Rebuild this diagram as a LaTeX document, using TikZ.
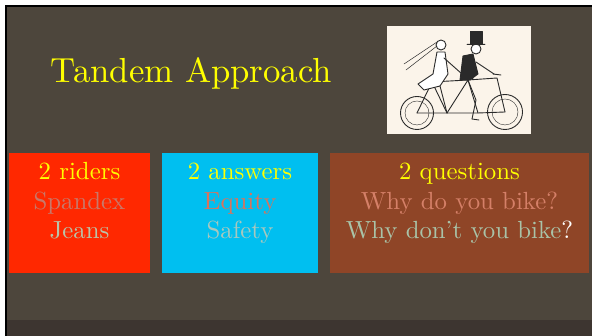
\documentclass[tikz,border=0pt]{standalone}
\usepackage{fontspec}
\setmainfont{lmroman10-regular.otf}
\usepackage{tikz}
\usetikzlibrary{positioning}
\definecolor{udwutc}{rgb}{0.302,0.275,0.235}
\definecolor{tdtvtq}{rgb}{0.239,0.208,0.188}
\definecolor{ffsaqq}{rgb}{1.,0.157,0.}
\definecolor{qqbfeq}{rgb}{0.,0.749,0.941}
\definecolor{yfuvsx}{rgb}{0.561,0.271,0.153}
\definecolor{ffffqq}{rgb}{1.,1.,0.}
\definecolor{cyxwwa}{rgb}{0.784,0.471,0.416}
\definecolor{dzxtvc}{rgb}{0.851,0.451,0.361}
\definecolor{bzcuaz}{rgb}{0.725,0.769,0.663}
\definecolor{azcybe}{rgb}{0.663,0.784,0.745}
\definecolor{dvyqwy}{rgb}{0.835,0.502,0.408}
\definecolor{azctay}{rgb}{0.663,0.765,0.659}
\definecolor{fbfuea}{rgb}{0.984,0.957,0.918}
\definecolor{sasasa}{rgb}{0.165,0.165,0.165}
\begin{document}
\begin{tikzpicture}[line cap=round,line join=round,x=1pt,y=1pt,
    box/.style={rectangle,draw=none,inner sep=0pt},
    line/.style={anchor=base,inner sep=0pt,font=\fontsize{24.8}{30}\selectfont},
    ink/.style={draw=sasasa,line width=0.9pt}]
    \useasboundingbox (0,0) rectangle (592,336);
    \fill [white] (0,0) rectangle (592,336);
    \fill [udwutc] (7,0) rectangle (592,329);
    \fill [tdtvtq] (7,0) rectangle (592,16);
    \fill [black] (5,0) rectangle (7,331);
    \fill [black] (5,329) rectangle (592,331);
    % title
    \node[anchor=base,inner sep=0pt,font=\fontsize{34.8}{40}\selectfont,color=ffffqq] (title) at (191.5,253) {Tandem Approach};
    % picture
    \node[box,fill=fbfuea,minimum width=144,minimum height=108] (photo) at (459,256) {};
    \draw [ink] (417,223) circle (16.5);
    \draw [ink] (505,224) circle (17.5);
    \draw [ink,line width=0.4pt] (417,223) circle (12);
    \draw [ink,line width=0.4pt] (505,224) circle (13);
    \draw [ink] (417,223)-- (447,223)-- (478,223)-- (505,224);
    \draw [ink] (417,223)-- (432,254)-- (447,223);
    \draw [ink] (447,223)-- (468,256)-- (478,223);
    \draw [ink] (432,254)-- (468,256)-- (497,258)-- (505,224);
    \draw [ink] (493,262)-- (501,261);
    \draw [ink] (428,256)-- (437,256);
    \draw [ink] (464,258)-- (473,258);
    % bride
    \draw [ink,fill=white] (441,291) circle (5);
    \draw [ink,fill=white] (437,284)-- (445,284)-- (448,262)-- (440,250)-- (424,246)-- (418,252)-- (433,262)-- cycle;
    \draw [ink,line width=0.5pt] (437,294)-- (404,272);
    \draw [ink,line width=0.5pt] (437,290)-- (406,266);
    \draw [ink] (444,278)-- (462,262);
    \draw [ink] (440,250)-- (447,223);
    % groom
    \draw [ink,fill=sasasa] (460,256)-- (463,280)-- (473,282)-- (478,262)-- (470,256)-- cycle;
    \draw [ink,fill=white] (476,287) circle (5);
    \draw [ink,fill=sasasa] (470,292) rectangle (482,305);
    \draw [ink,fill=sasasa] (467,292)-- (485,292);
    \draw [ink] (476,274)-- (494,262);
    \draw [ink] (468,256)-- (476,236)-- (472,217);
    \draw [ink] (472,217)-- (479,216);
    % boxes
    \node[box,fill=ffsaqq,minimum width=141,minimum height=120] (riders) at (79.5,123) {};
    \node[box,fill=qqbfeq,minimum width=156,minimum height=120] (answers) at (240,123) {};
    \node[box,fill=yfuvsx,minimum width=259,minimum height=120] (questions) at (459.5,123) {};
    \node[line,color=ffffqq] (riders1) at ([yshift=-27]riders.north) {2 riders};
    \node[line,color=cyxwwa] (riders2) at ([yshift=-56.5]riders.north) {Spandex};
    \node[line,color=bzcuaz] (riders3) at ([yshift=-86]riders.north) {Jeans};
    \node[line,color=ffffqq] (answers1) at ([yshift=-27]answers.north) {2 answers};
    \node[line,color=dzxtvc] (answers2) at ([yshift=-56.5]answers.north) {Equity};
    \node[line,color=azcybe] (answers3) at ([yshift=-86]answers.north) {Safety};
    \node[line,color=ffffqq] (questions1) at ([yshift=-27]questions.north) {2 questions};
    \node[line,color=dvyqwy] (questions2) at ([yshift=-56.5]questions.north) {Why do you bike?};
    \node[line,color=azctay] (questions3) at ([yshift=-86]questions.north) {Why don't you bike\textcolor{white}{?}};
\end{tikzpicture}
\end{document}
